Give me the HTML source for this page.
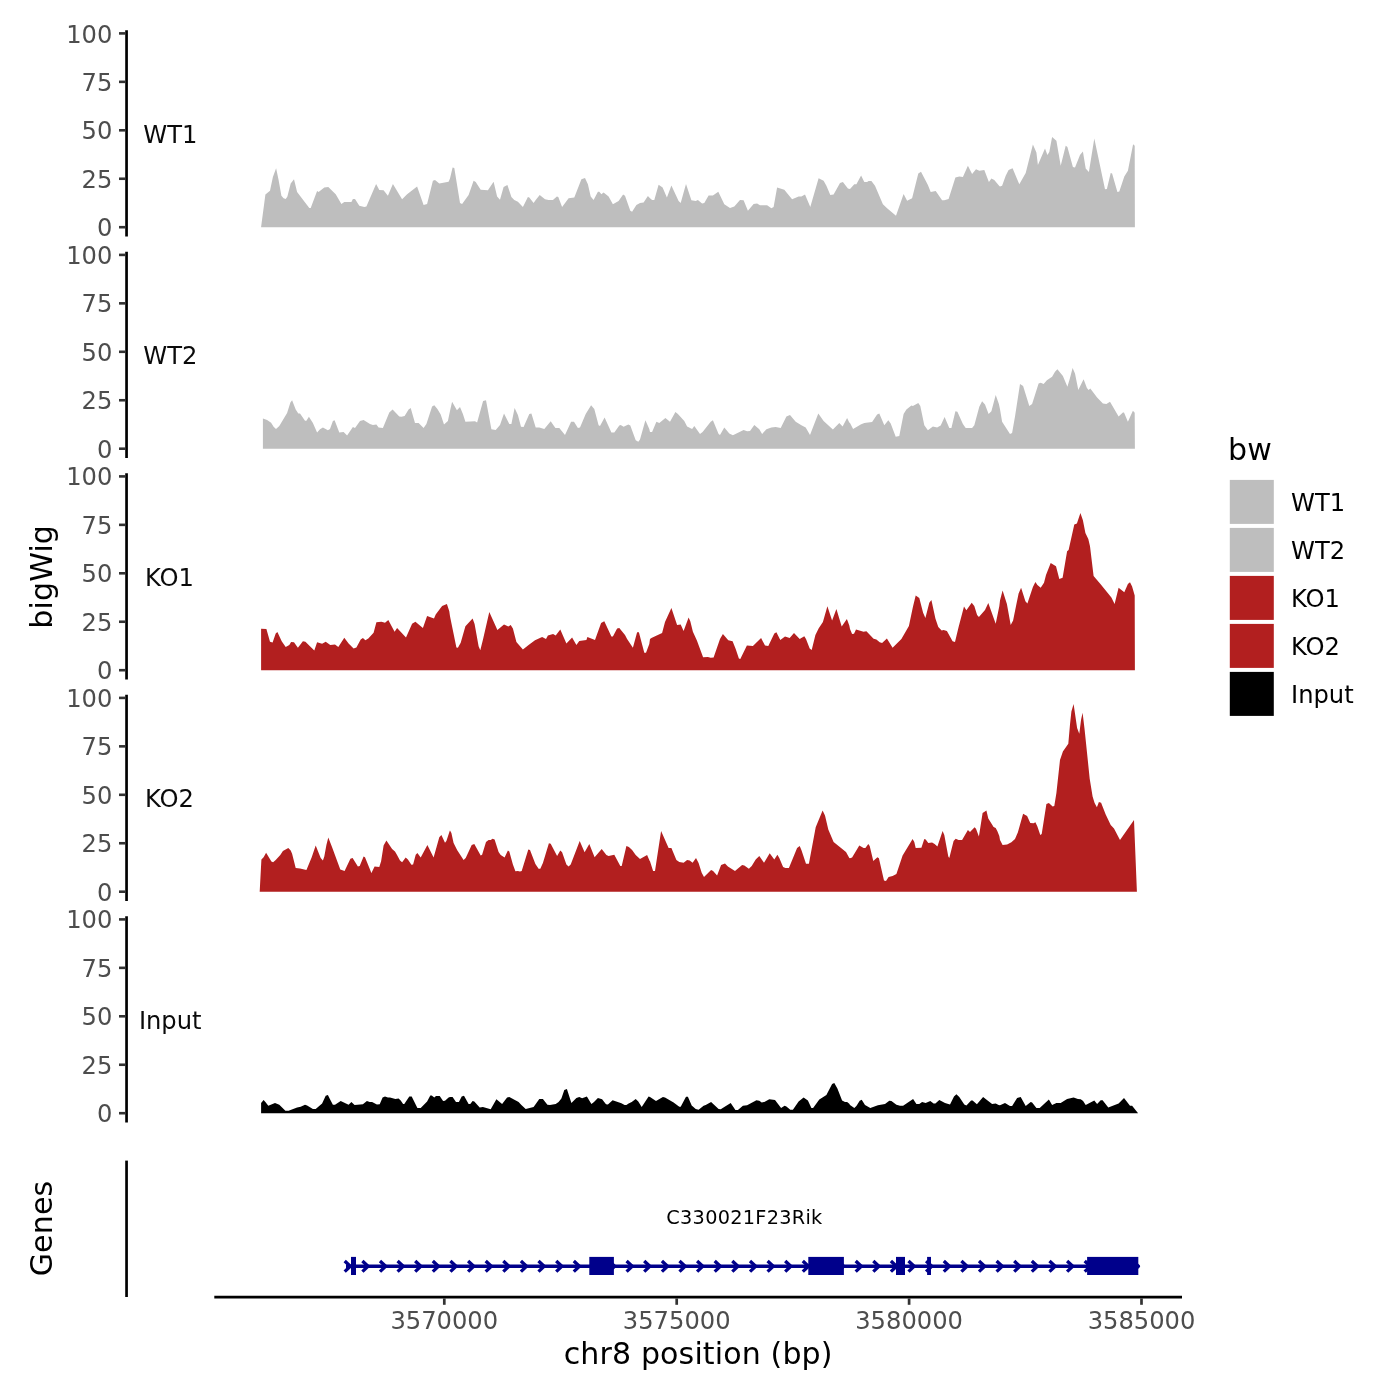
<!DOCTYPE html>
<html lang="en"><head><meta charset="utf-8"><title>bigWig coverage tracks</title>
<style>html,body{margin:0;padding:0;background:#fff}body{width:1400px;height:1400px;overflow:hidden}svg{display:block}text{font-family:'DejaVu Sans', 'Liberation Sans', sans-serif}.tk{font-size:24.2px;fill:#4d4d4d}.lb{font-size:24.2px;fill:#0a0a0a}.ti{font-size:30.05px;fill:#000;letter-spacing:0.12px}.lg{font-size:24.2px;fill:#000}.gn{font-size:19.3px;fill:#000;letter-spacing:0.27px}</style></head><body>
<svg width="1400" height="1400" viewBox="0 0 1400 1400" role="img" aria-label="bigWig coverage tracks with gene annotation">
<rect width="1400" height="1400" fill="#fff"/>
<g>
<path d="M261.1,227.2L261.1,227.1L265.4,194.6L270.0,190.7L272.9,177.1L276.1,168.3L278.6,180.0L281.4,195.7L283.6,198.3L285.7,198.9L287.4,196.4L290.7,183.6L294.0,179.3L297.1,192.1L309.3,207.9L310.7,207.9L317.1,191.1L318.6,192.1L324.3,187.4L328.3,187.1L335.7,194.3L341.4,204.0L344.3,202.1L351.4,202.1L352.9,198.9L355.0,198.9L359.3,205.7L364.3,207.1L366.4,206.4L376.1,184.0L379.3,190.0L383.6,190.3L387.9,195.7L392.9,184.0L402.1,199.3L407.1,194.3L417.1,186.4L423.6,205.0L427.1,204.0L432.9,180.7L435.0,180.0L439.3,183.6L448.6,181.7L450.0,178.6L452.6,167.4L454.3,167.9L460.0,202.9L462.1,204.0L468.6,195.0L473.6,180.7L475.7,182.1L480.7,189.7L487.9,190.3L493.6,181.7L497.1,196.4L500.0,199.7L503.6,186.9L507.4,185.0L511.4,197.1L514.3,200.0L517.9,201.7L522.9,207.1L527.9,197.1L529.3,197.4L533.6,202.9L535.7,200.0L539.7,195.0L545.0,199.3L548.6,200.0L552.9,200.0L556.9,196.4L558.3,197.1L562.1,206.9L568.6,198.3L574.3,197.4L581.4,179.3L585.0,177.9L587.9,184.3L590.7,196.4L593.6,200.0L597.9,191.7L599.3,191.7L601.4,194.3L603.6,192.6L608.6,196.4L612.9,204.3L618.6,201.1L623.1,194.6L625.0,195.7L630.3,210.7L632.1,211.7L636.4,205.0L640.0,202.9L643.6,202.6L647.9,196.0L650.0,198.3L652.1,200.0L654.3,200.0L658.6,184.7L662.6,187.4L666.9,197.4L671.4,185.4L674.3,191.7L678.6,201.1L680.7,202.9L686.0,184.0L691.4,200.3L695.7,201.1L697.9,200.0L702.1,203.6L704.3,202.9L708.6,195.4L712.9,195.4L718.3,191.7L724.3,204.3L730.0,207.9L734.3,206.4L740.0,200.0L743.6,200.3L747.9,210.7L753.6,204.0L757.1,203.6L760.0,205.3L767.1,205.3L771.4,208.3L773.6,207.1L777.1,187.4L784.3,189.7L792.1,199.3L798.6,196.4L801.4,196.4L805.0,194.6L810.3,207.1L818.6,178.3L823.6,180.7L826.4,185.7L830.3,195.0L833.6,194.6L840.0,183.1L842.9,182.1L847.9,188.6L850.0,188.9L854.3,184.3L856.4,184.3L861.1,175.4L864.3,182.1L867.1,182.1L868.6,181.1L871.4,181.1L875.0,185.7L882.9,204.3L887.1,208.3L896.0,215.7L903.6,194.0L907.1,200.7L912.1,198.3L918.3,173.6L921.0,171.7L927.9,185.0L930.7,192.1L935.7,191.1L942.1,200.3L944.3,200.3L948.6,198.9L955.4,177.4L959.3,176.4L962.9,177.1L967.9,165.7L972.1,174.0L976.0,169.3L979.3,170.7L984.3,170.0L988.9,182.1L991.4,178.6L994.3,180.0L999.3,186.0L1000.0,186.4L1002.1,185.7L1005.7,175.7L1008.6,170.0L1012.6,168.3L1019.3,184.3L1025.7,172.9L1032.9,144.6L1036.4,152.6L1037.9,165.0L1045.0,148.6L1047.4,155.0L1049.3,152.1L1052.1,137.1L1056.4,140.7L1060.7,165.7L1065.7,145.7L1067.4,146.9L1072.9,167.1L1075.0,167.4L1080.0,155.0L1082.9,151.4L1085.7,168.6L1088.9,172.1L1094.3,138.6L1105.0,189.3L1106.9,188.9L1110.7,172.9L1112.1,173.6L1117.4,192.1L1119.3,191.4L1124.3,176.4L1127.9,170.7L1133.1,144.3L1134.7,145.7L1134.9,227.1L1134.9,227.2 Z" fill="#bebebe"/>
<line x1="126.55" y1="30.25" x2="126.55" y2="236.50" stroke="#000" stroke-width="2.70"/>
<line x1="119.00" y1="227.20" x2="125.20" y2="227.20" stroke="#333" stroke-width="2.6"/>
<text class="tk" x="112.4" y="236" text-anchor="end">0</text>
<line x1="119.00" y1="178.75" x2="125.20" y2="178.75" stroke="#333" stroke-width="2.6"/>
<text class="tk" x="112.4" y="188" text-anchor="end">25</text>
<line x1="119.00" y1="130.30" x2="125.20" y2="130.30" stroke="#333" stroke-width="2.6"/>
<text class="tk" x="112.4" y="139" text-anchor="end">50</text>
<line x1="119.00" y1="81.85" x2="125.20" y2="81.85" stroke="#333" stroke-width="2.6"/>
<text class="tk" x="112.4" y="91" text-anchor="end">75</text>
<line x1="119.00" y1="33.40" x2="125.20" y2="33.40" stroke="#333" stroke-width="2.6"/>
<text class="tk" x="112.4" y="43" text-anchor="end">100</text>
<text class="lb" x="170.30" y="143" text-anchor="middle">WT1</text>
</g>
<g>
<path d="M262.9,448.7L262.9,448.6L262.9,418.4L267.1,419.9L271.1,422.7L273.6,426.7L276.0,428.9L279.3,426.0L287.1,413.1L290.4,402.4L292.1,400.3L295.7,409.6L298.3,413.6L300.0,413.6L305.0,420.7L306.4,420.7L308.9,416.7L312.9,423.1L317.1,432.4L320.0,429.3L322.9,427.4L327.9,430.3L330.0,428.9L332.9,421.0L334.6,420.3L339.3,432.4L343.6,432.1L347.1,435.6L352.9,427.0L355.0,427.9L360.0,421.0L363.6,420.0L370.0,424.1L372.9,425.0L376.4,424.6L378.6,427.4L382.9,428.1L389.3,412.4L392.6,409.6L399.3,416.4L401.4,416.7L404.6,416.0L408.6,409.6L410.7,408.1L415.0,423.1L418.6,423.1L423.6,427.9L426.4,423.9L432.1,406.4L434.3,405.3L437.4,408.9L440.7,414.6L444.0,424.6L447.9,421.0L450.0,411.0L452.1,401.7L456.9,410.3L460.0,407.1L462.9,413.9L465.4,421.7L475.0,421.3L477.1,422.4L483.1,401.0L486.0,400.3L491.4,429.3L495.7,429.9L500.0,425.0L504.0,413.6L509.3,424.1L511.4,423.9L514.6,408.1L517.9,415.0L521.0,426.7L523.6,427.0L529.3,414.1L531.4,413.6L535.7,427.4L539.3,427.4L544.3,428.9L550.7,421.3L555.4,428.1L559.3,428.1L565.0,435.0L571.1,421.7L574.0,421.7L577.9,428.1L580.0,427.4L585.7,413.9L591.1,405.3L594.3,408.9L598.6,425.3L600.0,426.0L604.6,417.4L611.4,432.4L614.3,432.4L619.3,425.6L620.7,425.0L623.6,426.7L628.3,424.6L630.3,425.6L635.7,440.3L638.3,441.7L640.0,439.6L645.4,420.3L649.3,428.9L650.0,432.1L652.1,432.1L656.4,421.7L659.3,423.1L665.4,418.1L670.0,421.7L675.4,412.1L677.9,414.1L684.3,421.0L687.1,426.4L692.1,428.9L694.3,426.0L700.0,434.1L702.6,432.1L710.7,421.7L712.9,420.3L718.6,433.9L720.0,435.0L724.3,427.4L729.3,433.6L732.9,435.3L743.6,429.9L747.1,431.3L750.0,431.0L754.3,425.0L759.3,429.3L762.1,434.1L766.4,429.3L771.4,427.4L775.7,427.0L780.7,428.1L786.4,416.4L790.0,415.0L795.7,421.7L801.4,425.3L805.7,427.4L810.0,435.0L818.3,413.6L823.6,421.0L832.9,429.6L839.3,423.1L842.6,426.4L847.1,418.1L849.3,422.4L850.0,423.1L853.1,428.9L860.7,424.6L864.3,423.1L872.1,422.1L877.1,414.6L879.3,413.6L884.3,425.3L888.3,420.3L890.7,423.6L895.7,436.7L899.3,436.0L903.6,413.9L906.4,409.6L911.4,405.6L912.9,406.0L918.3,403.1L920.3,406.0L924.3,425.3L927.9,430.3L932.9,426.4L937.1,427.4L940.7,425.6L944.6,417.0L949.3,428.1L951.4,428.1L955.4,411.3L957.4,411.7L962.9,423.9L965.7,428.1L972.1,428.1L974.3,425.3L979.3,406.7L982.1,401.3L985.0,404.6L988.6,413.9L991.4,411.3L995.7,395.0L998.9,403.9L1000.0,409.3L1002.1,421.7L1010.0,433.9L1012.1,433.1L1015.0,416.4L1020.0,383.9L1023.1,386.0L1029.3,406.0L1032.1,403.9L1038.6,383.6L1040.7,382.7L1043.6,384.1L1046.9,380.3L1052.1,376.7L1055.0,371.7L1057.4,369.3L1062.9,376.0L1067.4,386.7L1070.0,378.1L1072.6,368.1L1075.0,373.6L1078.3,389.9L1083.6,379.3L1086.9,387.9L1088.6,389.9L1090.3,388.4L1097.1,397.4L1102.9,403.6L1106.4,404.1L1110.0,401.7L1118.6,416.4L1122.9,412.4L1124.0,412.4L1127.9,421.7L1132.9,410.7L1134.7,412.7L1134.9,448.6L1134.9,448.7 Z" fill="#bebebe"/>
<line x1="126.55" y1="251.75" x2="126.55" y2="458.00" stroke="#000" stroke-width="2.70"/>
<line x1="119.00" y1="448.70" x2="125.20" y2="448.70" stroke="#333" stroke-width="2.6"/>
<text class="tk" x="112.4" y="458" text-anchor="end">0</text>
<line x1="119.00" y1="400.25" x2="125.20" y2="400.25" stroke="#333" stroke-width="2.6"/>
<text class="tk" x="112.4" y="409" text-anchor="end">25</text>
<line x1="119.00" y1="351.80" x2="125.20" y2="351.80" stroke="#333" stroke-width="2.6"/>
<text class="tk" x="112.4" y="361" text-anchor="end">50</text>
<line x1="119.00" y1="303.35" x2="125.20" y2="303.35" stroke="#333" stroke-width="2.6"/>
<text class="tk" x="112.4" y="312" text-anchor="end">75</text>
<line x1="119.00" y1="254.90" x2="125.20" y2="254.90" stroke="#333" stroke-width="2.6"/>
<text class="tk" x="112.4" y="264" text-anchor="end">100</text>
<text class="lb" x="170.30" y="364" text-anchor="middle">WT2</text>
</g>
<g>
<path d="M261.1,670.2L261.1,670.0L261.1,628.7L266.4,628.9L270.0,641.7L272.6,642.4L275.7,633.4L277.4,632.0L281.7,641.3L285.7,647.0L289.3,645.1L291.1,642.0L294.0,642.3L297.9,647.7L302.9,641.3L305.4,641.7L314.3,650.6L317.1,642.3L322.1,643.7L325.7,641.7L330.3,645.1L335.0,644.6L338.3,647.0L344.3,637.7L348.6,643.4L353.6,648.4L356.4,647.4L360.7,639.4L362.9,638.0L365.4,640.3L368.3,638.4L373.6,632.7L376.4,622.3L381.4,621.7L385.0,622.7L388.3,619.9L394.6,631.7L397.1,628.1L406.0,637.4L412.1,623.7L415.4,621.7L422.9,628.0L427.1,616.0L434.0,618.4L435.7,614.6L442.1,606.0L446.9,604.1L449.3,611.3L450.0,616.3L456.4,647.4L457.9,647.7L460.7,642.7L465.4,626.3L472.6,618.4L474.6,624.1L478.6,646.3L480.3,650.3L483.1,639.1L489.3,612.0L497.4,629.9L504.0,624.6L508.3,626.6L510.7,625.1L512.9,628.4L516.4,642.0L522.9,649.4L528.6,644.9L535.0,640.3L542.1,637.0L546.0,638.9L547.9,635.6L553.1,634.1L555.7,635.6L560.3,629.4L566.4,643.4L572.1,637.4L576.4,645.1L579.3,640.9L586.4,640.1L587.4,637.0L595.0,640.1L601.1,623.1L604.3,621.3L611.4,636.6L612.9,636.6L617.1,628.4L619.3,628.1L625.0,634.9L627.1,639.1L632.9,647.7L637.1,632.3L638.9,632.3L644.3,652.7L646.0,652.7L649.3,644.1L650.0,639.1L651.4,638.0L662.1,633.1L665.0,622.0L671.4,608.0L677.1,624.9L680.7,624.6L683.6,630.9L688.6,617.4L690.3,621.3L692.9,631.7L696.9,640.6L703.1,657.3L707.9,657.1L710.7,657.7L713.6,657.4L720.0,639.1L722.9,633.9L728.3,640.3L732.6,641.3L735.7,649.1L738.9,658.4L740.3,658.9L746.9,645.6L752.9,645.9L761.1,638.0L765.0,645.6L768.3,646.0L774.3,633.4L776.4,632.3L780.3,639.9L785.0,636.6L789.7,638.0L794.0,633.1L799.7,638.9L804.3,636.3L806.0,638.9L809.7,648.4L811.7,649.9L815.4,634.9L818.6,628.4L822.9,622.0L827.4,606.3L832.1,620.6L836.4,609.1L841.7,626.6L846.9,619.1L849.3,625.6L850.0,629.1L852.1,634.1L854.0,633.7L856.0,629.6L863.6,631.7L866.4,631.3L873.6,638.7L876.4,639.4L879.7,642.3L882.1,643.0L886.9,638.4L892.6,647.7L901.4,639.1L908.9,626.0L912.9,607.0L915.7,595.6L919.3,598.0L923.1,612.7L925.4,618.0L929.3,602.7L931.4,599.9L935.4,618.4L938.3,627.0L941.7,630.6L943.6,629.9L946.9,630.9L952.6,641.3L955.0,642.0L958.6,627.0L964.0,606.6L966.4,610.3L971.7,602.7L974.3,606.0L977.1,614.9L978.9,617.0L985.0,610.1L988.3,603.1L995.7,623.7L999.3,606.3L1000.0,600.6L1002.6,590.6L1006.9,604.1L1010.7,624.9L1013.1,620.6L1018.6,593.4L1021.1,587.7L1025.4,601.3L1027.4,603.4L1032.9,587.0L1035.4,582.0L1037.4,585.1L1040.7,587.7L1044.0,582.7L1046.0,574.9L1050.7,563.1L1056.0,566.3L1059.3,579.1L1062.6,577.7L1067.1,551.3L1068.6,549.9L1074.3,524.6L1076.9,523.4L1080.4,513.1L1082.9,520.3L1085.4,533.1L1088.3,539.1L1090.0,546.3L1093.6,576.0L1100.0,583.4L1111.4,597.4L1114.6,604.1L1118.6,587.7L1124.3,592.3L1127.9,584.1L1130.0,582.3L1132.1,586.6L1134.7,595.6L1134.9,670.1L1134.9,670.2 Z" fill="#b21f1f"/>
<line x1="126.55" y1="473.25" x2="126.55" y2="679.50" stroke="#000" stroke-width="2.70"/>
<line x1="119.00" y1="670.20" x2="125.20" y2="670.20" stroke="#333" stroke-width="2.6"/>
<text class="tk" x="112.4" y="679" text-anchor="end">0</text>
<line x1="119.00" y1="621.75" x2="125.20" y2="621.75" stroke="#333" stroke-width="2.6"/>
<text class="tk" x="112.4" y="631" text-anchor="end">25</text>
<line x1="119.00" y1="573.30" x2="125.20" y2="573.30" stroke="#333" stroke-width="2.6"/>
<text class="tk" x="112.4" y="582" text-anchor="end">50</text>
<line x1="119.00" y1="524.85" x2="125.20" y2="524.85" stroke="#333" stroke-width="2.6"/>
<text class="tk" x="112.4" y="534" text-anchor="end">75</text>
<line x1="119.00" y1="476.40" x2="125.20" y2="476.40" stroke="#333" stroke-width="2.6"/>
<text class="tk" x="112.4" y="485" text-anchor="end">100</text>
<text class="lb" x="169.45" y="586" text-anchor="middle">KO1</text>
</g>
<g>
<path d="M259.7,891.7L259.7,891.6L261.4,859.4L263.6,857.3L266.1,852.7L271.4,861.6L273.1,862.3L275.7,860.1L280.3,855.1L282.9,850.9L288.3,848.0L290.7,850.4L292.1,853.7L295.7,868.0L300.0,868.4L306.4,870.1L307.9,866.6L311.7,857.3L315.7,845.6L317.9,850.9L320.7,858.0L322.9,860.4L324.3,856.6L326.4,845.1L328.3,837.6L332.1,847.3L340.3,869.4L344.6,870.9L350.4,858.7L352.6,858.0L357.9,866.6L359.7,866.1L363.6,856.6L365.0,857.3L371.4,873.0L374.6,866.6L379.3,867.0L381.1,861.3L383.6,845.6L386.4,840.6L392.1,849.1L395.0,851.6L396.9,854.7L400.0,860.4L402.1,862.3L405.7,857.6L407.9,859.4L411.4,864.7L413.1,864.4L415.7,854.7L417.4,853.0L420.7,857.6L427.4,845.1L433.6,857.6L437.4,844.1L439.3,837.3L441.4,835.1L445.0,842.7L446.4,840.9L449.7,830.9L450.0,830.4L451.4,833.0L453.6,843.0L457.1,850.1L463.6,859.9L465.7,858.0L471.7,845.1L474.3,844.1L480.7,855.6L482.1,854.7L486.0,841.9L488.6,840.1L490.7,840.1L492.6,838.7L494.6,839.4L498.6,851.9L500.7,855.1L504.6,857.6L507.9,850.4L509.3,851.6L512.9,864.4L515.4,871.3L517.9,870.9L520.0,871.6L521.7,870.9L528.3,849.4L530.0,849.9L535.4,864.1L538.6,868.7L540.3,868.7L542.9,863.0L548.9,843.3L550.7,843.7L557.1,855.9L560.3,850.4L562.1,852.3L566.4,864.4L568.6,866.6L570.7,864.4L579.7,840.9L584.6,852.3L589.3,844.1L594.6,857.3L601.7,849.1L606.4,855.1L608.6,855.9L614.3,854.7L620.3,865.9L621.7,865.9L626.4,846.1L628.9,847.0L632.1,850.1L635.7,855.1L640.0,859.0L647.1,855.1L649.7,860.9L650.0,861.3L653.1,870.9L655.0,870.9L661.1,830.9L668.6,848.0L671.4,848.0L676.4,860.1L679.3,862.0L683.6,862.7L687.1,859.9L689.7,860.4L692.6,862.7L696.0,858.0L698.6,863.0L701.7,872.7L704.0,877.0L711.1,869.9L713.1,870.9L717.1,875.6L721.1,865.1L725.0,863.4L727.9,866.6L735.0,870.9L742.1,865.1L744.3,865.6L748.9,868.7L751.7,865.9L755.7,859.4L759.3,855.9L764.0,862.7L766.0,859.4L769.7,853.3L774.3,859.4L777.4,854.7L779.3,858.0L783.1,867.0L785.4,868.0L788.9,868.0L797.1,848.0L799.7,846.1L801.4,850.1L806.0,863.7L808.9,863.7L815.7,827.3L822.6,810.4L825.0,815.6L828.3,829.4L833.6,841.9L846.0,851.9L849.3,858.0L850.0,858.3L852.1,857.6L859.3,845.6L863.6,848.0L865.4,848.0L868.3,844.0L869.7,845.9L873.3,861.1L877.4,857.3L878.9,858.3L884.0,880.4L886.0,880.9L888.6,876.9L892.6,875.9L896.4,874.0L902.6,855.4L912.6,839.0L914.3,841.9L915.7,848.0L921.4,847.7L924.3,839.0L925.7,839.4L928.3,843.0L932.1,842.6L934.6,844.0L937.4,846.6L942.6,830.9L944.3,835.1L948.3,856.6L949.3,858.0L953.6,840.9L955.7,838.7L958.6,839.9L962.1,839.9L967.9,830.1L970.0,831.9L974.6,827.3L976.0,828.7L978.9,836.6L982.6,813.0L986.4,810.4L988.3,818.4L993.6,827.0L995.7,828.0L997.4,831.3L999.3,835.9L1000.0,840.1L1002.6,845.1L1007.1,844.4L1011.4,842.3L1015.0,839.0L1017.9,832.3L1023.1,813.7L1027.1,815.9L1030.3,823.0L1033.6,823.3L1035.4,822.3L1037.4,826.6L1040.3,835.1L1041.7,834.1L1046.4,804.1L1048.9,803.0L1052.6,806.6L1054.3,805.9L1056.4,793.0L1060.0,760.1L1062.9,751.6L1068.3,743.7L1070.0,724.4L1071.4,711.6L1073.6,704.1L1077.1,728.0L1079.3,733.7L1081.1,719.4L1082.6,712.7L1084.6,729.4L1089.7,778.7L1092.6,796.6L1094.6,803.0L1096.9,807.3L1098.9,801.9L1101.1,802.7L1105.7,814.4L1110.7,825.1L1114.0,828.4L1120.0,839.9L1134.0,819.9L1136.9,891.4L1136.9,891.7 Z" fill="#b21f1f"/>
<line x1="126.55" y1="694.75" x2="126.55" y2="901.00" stroke="#000" stroke-width="2.70"/>
<line x1="119.00" y1="891.70" x2="125.20" y2="891.70" stroke="#333" stroke-width="2.6"/>
<text class="tk" x="112.4" y="901" text-anchor="end">0</text>
<line x1="119.00" y1="843.25" x2="125.20" y2="843.25" stroke="#333" stroke-width="2.6"/>
<text class="tk" x="112.4" y="852" text-anchor="end">25</text>
<line x1="119.00" y1="794.80" x2="125.20" y2="794.80" stroke="#333" stroke-width="2.6"/>
<text class="tk" x="112.4" y="804" text-anchor="end">50</text>
<line x1="119.00" y1="746.35" x2="125.20" y2="746.35" stroke="#333" stroke-width="2.6"/>
<text class="tk" x="112.4" y="755" text-anchor="end">75</text>
<line x1="119.00" y1="697.90" x2="125.20" y2="697.90" stroke="#333" stroke-width="2.6"/>
<text class="tk" x="112.4" y="707" text-anchor="end">100</text>
<text class="lb" x="169.45" y="807" text-anchor="middle">KO2</text>
</g>
<g>
<path d="M261.1,1113.2L261.1,1113.0L261.1,1102.9L263.6,1100.0L265.4,1101.9L268.3,1105.7L275.0,1103.1L279.3,1104.7L282.1,1107.4L285.4,1110.7L288.6,1110.7L297.1,1107.6L300.7,1106.7L305.0,1104.7L307.1,1105.4L312.9,1108.9L315.7,1109.0L322.1,1103.6L325.7,1095.7L327.9,1095.0L330.0,1099.3L332.9,1104.7L335.0,1104.7L340.7,1101.1L348.6,1104.7L351.4,1102.1L354.6,1105.0L362.9,1104.3L366.9,1101.0L369.7,1102.1L372.1,1102.1L376.9,1104.6L379.7,1104.3L382.6,1097.6L385.0,1096.4L387.9,1097.6L390.0,1097.4L395.4,1098.9L398.6,1098.6L400.7,1100.4L403.1,1104.0L404.3,1104.0L409.3,1096.4L411.7,1096.4L417.4,1108.1L420.7,1107.9L427.1,1101.4L430.3,1095.4L431.7,1095.4L434.3,1097.6L436.0,1096.1L439.7,1096.1L443.1,1101.0L445.0,1100.7L448.6,1097.6L450.0,1097.1L452.6,1097.1L456.0,1101.9L458.9,1101.9L461.7,1096.4L464.0,1095.7L468.6,1104.0L470.3,1104.0L472.6,1101.0L474.3,1101.4L479.7,1107.6L482.9,1107.1L490.7,1109.3L496.4,1099.3L502.1,1104.0L507.1,1097.6L509.3,1097.1L518.6,1102.1L521.4,1105.0L525.7,1109.0L533.6,1107.1L539.3,1098.9L542.9,1098.9L547.4,1104.7L550.0,1105.0L555.7,1103.9L558.6,1102.1L561.4,1098.6L564.3,1090.0L566.9,1089.0L571.4,1102.9L576.4,1098.1L579.3,1097.1L582.1,1098.3L586.9,1096.4L591.4,1104.0L594.0,1102.1L597.9,1098.1L602.1,1099.3L606.0,1104.3L607.9,1104.6L612.6,1100.3L621.4,1103.3L624.6,1105.0L626.4,1105.0L628.6,1103.6L631.7,1102.1L635.7,1099.0L638.3,1101.4L641.7,1107.1L648.6,1096.4L650.0,1096.9L656.0,1101.0L662.9,1097.1L665.0,1097.4L673.6,1102.4L679.3,1106.7L680.7,1106.7L686.0,1096.7L687.9,1096.7L691.7,1105.4L695.7,1108.9L698.6,1109.7L703.6,1105.7L705.7,1105.0L711.1,1101.9L718.6,1109.0L720.7,1109.3L730.7,1103.1L735.4,1110.0L737.9,1110.0L742.9,1105.7L747.1,1105.3L756.4,1100.3L759.3,1100.7L761.7,1102.4L764.3,1101.9L769.3,1099.3L775.0,1100.0L781.1,1108.1L784.6,1105.7L786.4,1106.4L790.3,1109.7L792.9,1109.7L798.6,1101.4L803.6,1097.4L807.9,1100.4L811.4,1107.9L813.1,1108.1L819.3,1099.6L826.4,1095.0L832.1,1083.9L834.3,1082.9L837.4,1088.6L842.1,1100.4L845.0,1101.9L847.1,1102.1L849.3,1103.7L850.0,1105.0L854.3,1108.1L856.4,1106.1L859.7,1100.7L861.7,1099.7L865.0,1105.0L870.3,1108.1L877.9,1105.3L885.0,1104.0L889.3,1100.7L891.4,1101.0L896.4,1104.7L900.0,1105.7L903.1,1105.7L913.1,1099.0L916.4,1103.9L919.3,1104.0L922.1,1102.1L925.7,1102.9L930.3,1101.0L933.6,1103.6L935.4,1103.6L939.3,1100.0L945.0,1103.1L950.0,1104.6L954.0,1096.4L956.4,1094.3L959.3,1097.1L964.3,1104.6L966.4,1105.4L971.1,1100.4L972.6,1100.4L976.9,1104.3L983.1,1097.1L992.1,1103.9L995.7,1103.6L998.6,1105.0L1000.0,1105.3L1005.0,1102.9L1010.0,1106.0L1012.1,1106.0L1017.1,1098.1L1020.7,1097.1L1025.7,1106.0L1030.7,1102.1L1032.1,1102.6L1036.4,1107.9L1039.7,1107.9L1048.9,1099.6L1052.1,1105.0L1056.4,1103.1L1060.7,1102.9L1067.1,1099.0L1073.6,1097.6L1077.9,1098.9L1080.7,1099.3L1083.1,1101.0L1085.7,1105.0L1094.3,1100.4L1097.1,1104.0L1100.7,1100.3L1102.6,1100.3L1108.3,1107.4L1118.6,1103.6L1124.0,1098.1L1130.0,1105.7L1132.1,1105.7L1137.9,1113.0L1137.9,1113.2 Z" fill="#000000"/>
<line x1="126.55" y1="916.25" x2="126.55" y2="1122.50" stroke="#000" stroke-width="2.70"/>
<line x1="119.00" y1="1113.20" x2="125.20" y2="1113.20" stroke="#333" stroke-width="2.6"/>
<text class="tk" x="112.4" y="1122" text-anchor="end">0</text>
<line x1="119.00" y1="1064.75" x2="125.20" y2="1064.75" stroke="#333" stroke-width="2.6"/>
<text class="tk" x="112.4" y="1074" text-anchor="end">25</text>
<line x1="119.00" y1="1016.30" x2="125.20" y2="1016.30" stroke="#333" stroke-width="2.6"/>
<text class="tk" x="112.4" y="1025" text-anchor="end">50</text>
<line x1="119.00" y1="967.85" x2="125.20" y2="967.85" stroke="#333" stroke-width="2.6"/>
<text class="tk" x="112.4" y="977" text-anchor="end">75</text>
<line x1="119.00" y1="919.40" x2="125.20" y2="919.40" stroke="#333" stroke-width="2.6"/>
<text class="tk" x="112.4" y="928" text-anchor="end">100</text>
<text class="lb" x="170.20" y="1029" text-anchor="middle">Input</text>
</g>
<text class="ti" transform="translate(52.3,576.8) rotate(-90)" text-anchor="middle">bigWig</text>
<text class="ti" transform="translate(52.3,1228.5) rotate(-90)" text-anchor="middle">Genes</text>
<line x1="126.55" y1="1160.6" x2="126.55" y2="1297.0" stroke="#000" stroke-width="2.70"/>
<line x1="214.3" y1="1297.15" x2="1182" y2="1297.15" stroke="#000" stroke-width="2.70"/>
<line x1="444.30" y1="1298.4" x2="444.30" y2="1304.8" stroke="#333" stroke-width="2.7"/>
<text class="tk" x="444.30" y="1328.9" text-anchor="middle">3570000</text>
<line x1="676.70" y1="1298.4" x2="676.70" y2="1304.8" stroke="#333" stroke-width="2.7"/>
<text class="tk" x="676.70" y="1328.9" text-anchor="middle">3575000</text>
<line x1="909.10" y1="1298.4" x2="909.10" y2="1304.8" stroke="#333" stroke-width="2.7"/>
<text class="tk" x="909.10" y="1328.9" text-anchor="middle">3580000</text>
<line x1="1141.50" y1="1298.4" x2="1141.50" y2="1304.8" stroke="#333" stroke-width="2.7"/>
<text class="tk" x="1141.50" y="1328.9" text-anchor="middle">3585000</text>
<text class="ti" x="698.2" y="1363.5" text-anchor="middle">chr8 position (bp)</text>
<g stroke="#00008b" fill="none">
<line x1="346" y1="1266.3" x2="1138.3" y2="1266.3" stroke-width="3.6"/>
<path d="M344.7,1261.0 L350.3,1266.3 L344.7,1271.6 M362.4,1261.0 L368.0,1266.3 L362.4,1271.6 M380.0,1261.0 L385.6,1266.3 L380.0,1271.6 M397.6,1261.0 L403.2,1266.3 L397.6,1271.6 M415.2,1261.0 L420.8,1266.3 L415.2,1271.6 M432.8,1261.0 L438.4,1266.3 L432.8,1271.6 M450.4,1261.0 L456.0,1266.3 L450.4,1271.6 M468.1,1261.0 L473.7,1266.3 L468.1,1271.6 M485.7,1261.0 L491.3,1266.3 L485.7,1271.6 M503.3,1261.0 L508.9,1266.3 L503.3,1271.6 M520.9,1261.0 L526.5,1266.3 L520.9,1271.6 M538.5,1261.0 L544.1,1266.3 L538.5,1271.6 M556.2,1261.0 L561.8,1266.3 L556.2,1271.6 M573.8,1261.0 L579.4,1266.3 L573.8,1271.6 M591.4,1261.0 L597.0,1266.3 L591.4,1271.6 M609.0,1261.0 L614.6,1266.3 L609.0,1271.6 M626.6,1261.0 L632.2,1266.3 L626.6,1271.6 M644.2,1261.0 L649.8,1266.3 L644.2,1271.6 M661.9,1261.0 L667.5,1266.3 L661.9,1271.6 M679.5,1261.0 L685.1,1266.3 L679.5,1271.6 M697.1,1261.0 L702.7,1266.3 L697.1,1271.6 M714.7,1261.0 L720.3,1266.3 L714.7,1271.6 M732.3,1261.0 L737.9,1266.3 L732.3,1271.6 M750.0,1261.0 L755.6,1266.3 L750.0,1271.6 M767.6,1261.0 L773.2,1266.3 L767.6,1271.6 M785.2,1261.0 L790.8,1266.3 L785.2,1271.6 M802.8,1261.0 L808.4,1266.3 L802.8,1271.6 M820.4,1261.0 L826.0,1266.3 L820.4,1271.6 M838.0,1261.0 L843.6,1266.3 L838.0,1271.6 M855.7,1261.0 L861.3,1266.3 L855.7,1271.6 M873.3,1261.0 L878.9,1266.3 L873.3,1271.6 M890.9,1261.0 L896.5,1266.3 L890.9,1271.6 M908.5,1261.0 L914.1,1266.3 L908.5,1271.6 M926.1,1261.0 L931.7,1266.3 L926.1,1271.6 M943.8,1261.0 L949.4,1266.3 L943.8,1271.6 M961.4,1261.0 L967.0,1266.3 L961.4,1271.6 M979.0,1261.0 L984.6,1266.3 L979.0,1271.6 M996.6,1261.0 L1002.2,1266.3 L996.6,1271.6 M1014.2,1261.0 L1019.8,1266.3 L1014.2,1271.6 M1031.8,1261.0 L1037.4,1266.3 L1031.8,1271.6 M1049.5,1261.0 L1055.1,1266.3 L1049.5,1271.6 M1067.1,1261.0 L1072.7,1266.3 L1067.1,1271.6 M1084.7,1261.0 L1090.3,1266.3 L1084.7,1271.6 M1102.3,1261.0 L1107.9,1266.3 L1102.3,1271.6 M1119.9,1261.0 L1125.5,1266.3 L1119.9,1271.6 M1132.8,1261.0 L1138.4,1266.3 L1132.8,1271.6" stroke-width="3.3" stroke-linejoin="round" stroke-linecap="butt"/>
</g>
<g fill="#00008b">
<rect x="351.0" y="1256.9" width="5.0" height="18.1"/>
<rect x="589.3" y="1256.9" width="24.6" height="18.1"/>
<rect x="808.3" y="1256.9" width="35.6" height="18.1"/>
<rect x="896.0" y="1256.9" width="9.0" height="18.1"/>
<rect x="927.1" y="1256.9" width="3.9" height="18.1"/>
<rect x="1087.1" y="1256.9" width="51.2" height="18.1"/>
</g>
<text class="gn" x="744.4" y="1224.3" text-anchor="middle">C330021F23Rik</text>
<text class="ti" x="1228.1" y="460.3">bw</text>
<rect x="1229.8" y="479.90" width="44" height="44" fill="#bebebe"/>
<text class="lg" x="1291" y="510.50">WT1</text>
<rect x="1229.8" y="527.90" width="44" height="44" fill="#bebebe"/>
<text class="lg" x="1291" y="558.50">WT2</text>
<rect x="1229.8" y="575.90" width="44" height="44" fill="#b21f1f"/>
<text class="lg" x="1291" y="606.50">KO1</text>
<rect x="1229.8" y="623.90" width="44" height="44" fill="#b21f1f"/>
<text class="lg" x="1291" y="654.50">KO2</text>
<rect x="1229.8" y="671.90" width="44" height="44" fill="#000000"/>
<text class="lg" x="1291" y="702.50">Input</text>
</svg></body></html>
